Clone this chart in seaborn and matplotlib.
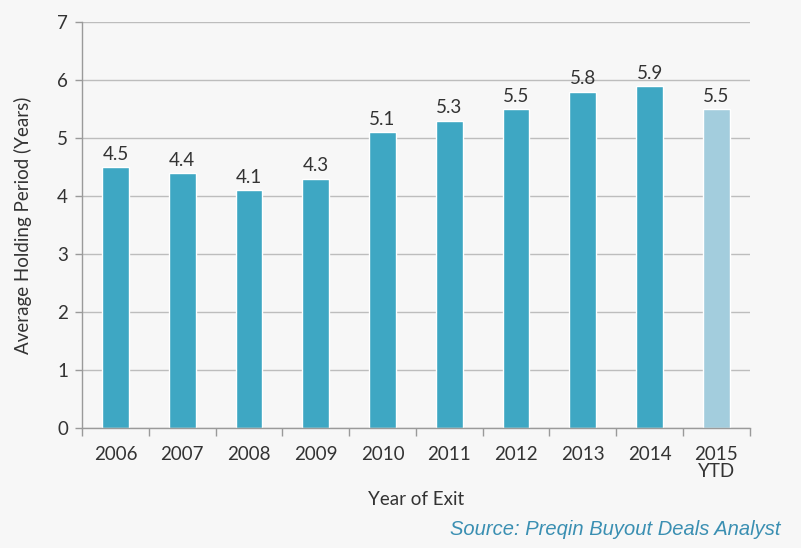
import matplotlib
matplotlib.use("Agg")
import matplotlib.pyplot as plt
import seaborn as sns
import pandas as pd
from matplotlib.ticker import FixedLocator

years = ["2006", "2007", "2008", "2009", "2010", "2011", "2012", "2013", "2014", "2015\nYTD"]
holding_period = [4.5, 4.4, 4.1, 4.3, 5.1, 5.3, 5.5, 5.8, 5.9, 5.5]
bar_colors = ["#3ea7c3"] * 9 + ["#a3cddd"]

df = pd.DataFrame({"year": years, "period": holding_period})

sns.set_theme(style="white")
plt.rcParams["font.family"] = ["Lato", "DejaVu Sans"]

bg = "#f7f7f7"
txt = "#333333"
fs = 13.5
fig = plt.figure(figsize=(8.01, 5.48), dpi=100, facecolor=bg)
ax = fig.add_axes([0.1024, 0.219, 0.8336, 0.741])
ax.set_facecolor(bg)

sns.barplot(data=df, x="year", y="period", hue="year", palette=bar_colors,
            legend=False, width=0.4, ax=ax, saturation=1)

for i, v in enumerate(holding_period):
    ax.text(i, v + 0.07, f"{v:.1f}", ha="center", va="bottom",
            fontsize=fs, color=txt)

ax.set_ylim(0, 7)
ax.set_xlim(-0.5, len(years) - 0.5)
ax.set_yticks(range(0, 8))
ax.yaxis.grid(True, color="#bdbdbd", linewidth=1)
ax.set_axisbelow(True)

for side in ["top", "right"]:
    ax.spines[side].set_visible(False)
for side in ["left", "bottom"]:
    ax.spines[side].set_color("#9a9a9a")
    ax.spines[side].set_linewidth(1)

# category boundary ticks on the x axis, labels centred under the bars
ax.xaxis.set_major_locator(FixedLocator([i - 0.5 for i in range(len(years) + 1)]))
ax.xaxis.set_minor_locator(FixedLocator(list(range(len(years)))))
ax.set_xticklabels([""] * (len(years) + 1))
ax.set_xticklabels(years, minor=True, fontsize=fs, color=txt, linespacing=1.0)
ax.tick_params(axis="x", which="major", length=6, width=1, color="#9a9a9a", direction="out")
ax.tick_params(axis="x", which="minor", length=0, pad=13)
ax.tick_params(axis="y", length=5, width=1, color="#9a9a9a", direction="out",
               labelsize=fs, labelcolor=txt, pad=5)
ax.tick_params(left=True, bottom=True)

ax.set_xlabel("Year of Exit", fontsize=fs, color=txt, labelpad=8)
ax.set_ylabel("Average Holding Period (Years)", fontsize=fs, color=txt, labelpad=18)

fig.text(0.975, 0.016, "Source: Preqin Buyout Deals Analyst", ha="right", va="bottom",
         fontsize=14.5, style="italic", color="#3a8fb2", family="Liberation Sans")

fig.savefig("out.png", dpi=100, facecolor=bg)
